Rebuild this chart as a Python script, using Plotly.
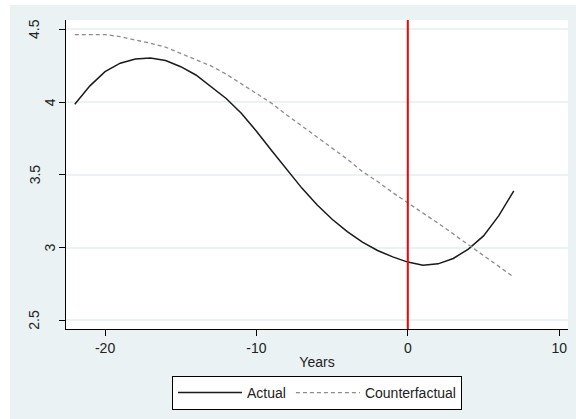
import plotly.graph_objects as go

years = list(range(-22, 8))
actual = [3.986, 4.112, 4.210, 4.268, 4.297, 4.304, 4.286, 4.244, 4.187, 4.107,
          4.025, 3.924, 3.800, 3.667, 3.534, 3.409, 3.294, 3.195, 3.110, 3.037,
          2.980, 2.936, 2.900, 2.879, 2.888, 2.925, 2.990, 3.080, 3.218, 3.390]
counterfactual = [4.465, 4.465, 4.465, 4.450, 4.430, 4.405, 4.378, 4.336, 4.295, 4.249,
                  4.193, 4.125, 4.061, 3.993, 3.912, 3.837, 3.763, 3.683, 3.608, 3.523,
                  3.454, 3.378, 3.305, 3.237, 3.168, 3.094, 3.019, 2.943, 2.870, 2.797]
treatment_year = 0
x_ticks = [-20, -10, 0, 10]
x_tick_labels = ["-20", "-10", "0", "10"]
y_ticks = [2.5, 3, 3.5, 4, 4.5]
y_tick_labels = ["2.5", "3", "3.5", "4", "4.5"]

BG = "#eaf2f3"
FONT = "Liberation Sans, Arial, sans-serif"
PLOT_L, PLOT_W = 66, 502

fig = go.Figure()
fig.add_trace(go.Scatter(x=years, y=actual, mode="lines", name="Actual",
                         line=dict(color="#1a1a1a", width=1.5)))
fig.add_trace(go.Scatter(x=years, y=counterfactual, mode="lines", name="Counterfactual",
                         line=dict(color="#8c8c8c", width=1.3, dash="4px,3px")))

# treatment marker
fig.add_shape(type="line", xref="x", yref="paper", x0=treatment_year, x1=treatment_year,
              y0=0, y1=1, line=dict(color="#ff0000", width=2), layer="above")

# thin white frame around the graph region
fig.add_shape(type="rect", xref="paper", yref="paper", x0=-PLOT_L / PLOT_W, x1=-(PLOT_L - 10) / PLOT_W,
              y0=-1, y1=2, fillcolor="white", line_width=0, layer="below")
fig.add_shape(type="rect", xref="paper", yref="paper", x0=-1, x1=2,
              y0=1 + 15 / 309, y1=1.2, fillcolor="white", line_width=0, layer="below")

# rotated y tick labels, each placed by its own unrotated text width
for val, txt in zip(y_ticks, y_tick_labels):
    cx = 34.5 if len(txt) > 1 else 50
    fig.add_annotation(x=(cx - PLOT_L) / PLOT_W, xref="paper", y=val, yref="y",
                       text=txt, textangle=-90, showarrow=False,
                       xanchor="center", yanchor="middle",
                       font=dict(family=FONT, size=14, color="#222222"))

fig.update_layout(
    width=576, height=419,
    margin=dict(l=PLOT_L, r=8, t=20, b=90),
    paper_bgcolor=BG, plot_bgcolor="white",
    font=dict(family=FONT, size=14, color="#222222"),
    showlegend=True,
    legend=dict(orientation="h", x=0.5, xanchor="center", y=-0.152, yanchor="top",
                bgcolor="white", bordercolor="black", borderwidth=1,
                font=dict(size=14), itemwidth=64),
    xaxis=dict(range=[-22.58, 10.58], tickvals=x_ticks, ticktext=x_tick_labels,
               showgrid=False, zeroline=False,
               showline=True, linecolor="black", linewidth=1, ticks="outside",
               ticklen=6, tickcolor="black",
               title=dict(text="Years", font=dict(size=14), standoff=2)),
    yaxis=dict(range=[2.44, 4.565], tickvals=y_ticks, showticklabels=False,
               showgrid=True, gridcolor=BG, gridwidth=1.5, zeroline=False,
               showline=True, linecolor="black", linewidth=1, ticks="outside",
               ticklen=6, tickcolor="black"),
)

fig.write_html("out.html")
